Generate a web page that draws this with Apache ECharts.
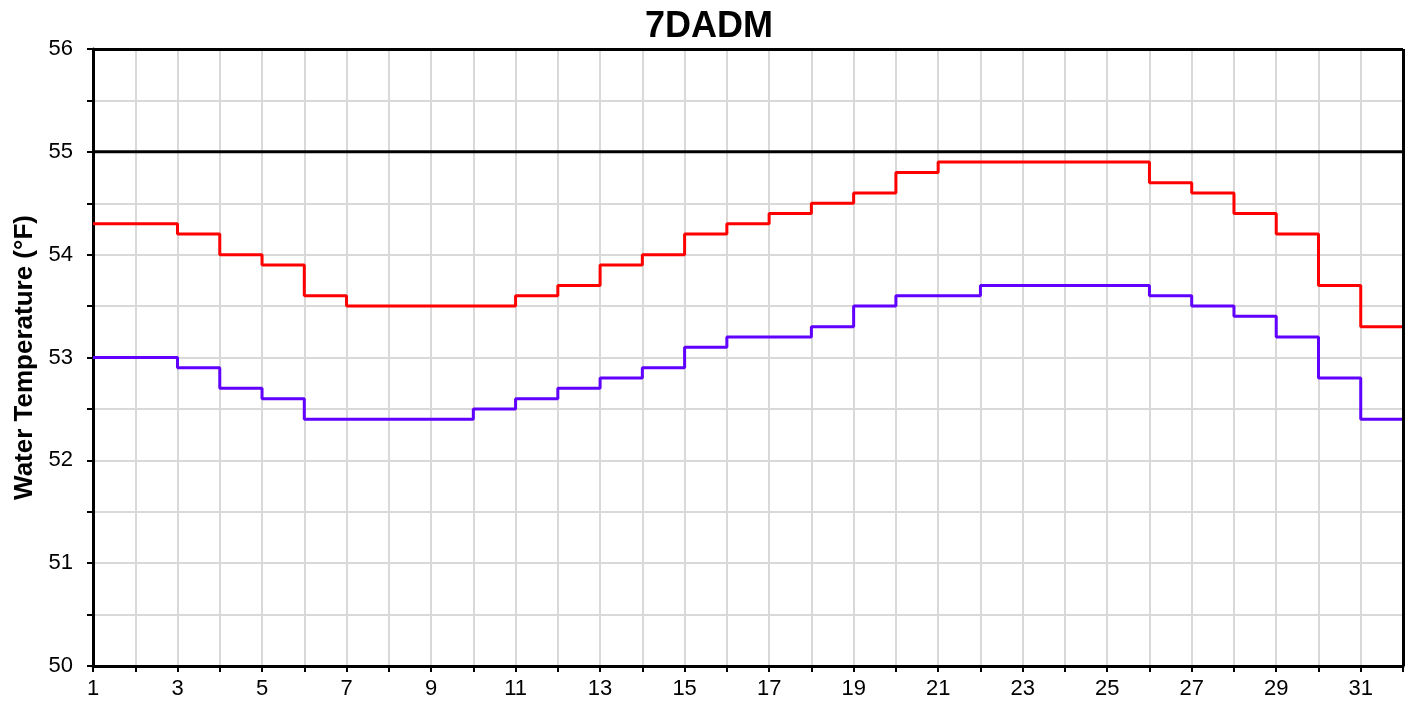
<!DOCTYPE html>
<html>
<head>
<meta charset="utf-8">
<script src="https://cdn.jsdelivr.net/npm/echarts@6/dist/echarts.min.js"></script>
<style>
  html, body { margin: 0; padding: 0; background: #fff; }
  #main { width: 1418px; height: 709px; }
</style>
</head>
<body>
<div id="main"></div>
<script>
// days 1..31, last step ends at 32
var days = [1, 2, 3, 4, 5, 6, 7, 8, 9, 10, 11, 12, 13, 14, 15, 16, 17, 18, 19, 20,
    21, 22, 23, 24, 25, 26, 27, 28, 29, 30, 31, 32];
var upper = [54.3, 54.3, 54.2, 54.0, 53.9, 53.6, 53.5, 53.5, 53.5, 53.5, 53.6, 53.7, 53.9, 54.0, 54.2, 54.3,
    54.4, 54.5, 54.6, 54.8, 54.9, 54.9, 54.9, 54.9, 54.9, 54.7, 54.6, 54.4, 54.2, 53.7, 53.3, 53.3];
var lower = [53.0, 53.0, 52.9, 52.7, 52.6, 52.4, 52.4, 52.4, 52.4, 52.5, 52.6, 52.7, 52.8, 52.9, 53.1, 53.2,
    53.2, 53.3, 53.5, 53.6, 53.6, 53.7, 53.7, 53.7, 53.7, 53.6, 53.5, 53.4, 53.2, 52.8, 52.4, 52.4];
var criterion = 55;

function pairs(ys) {
    return days.map(function (d, i) { return [d, ys[i]]; });
}

var myChart = echarts.init(document.getElementById('main'));

var font = 'Liberation Sans, Arial, sans-serif';

var option = {
    animation: false,
    title: {
        text: '7DADM',
        left: 'center',
        top: 4,
        textStyle: { fontFamily: font, fontSize: 36, fontWeight: 'bold', color: '#000' }
    },
    grid: { left: 93, right: 15, top: 49, bottom: 43, containLabel: false },
    xAxis: {
        type: 'value',
        min: 1,
        max: 32,
        interval: 1,
        axisLine: { show: true, onZero: false, lineStyle: { color: '#000', width: 3 } },
        axisTick: { show: true, length: 6, lineStyle: { color: '#000', width: 2 } },
        axisLabel: {
            fontFamily: font, fontSize: 22, color: '#000', margin: 12,
            formatter: function (v) { return (v % 2 === 1 && v < 32) ? String(v) : ''; }
        },
        splitLine: { show: true, lineStyle: { color: '#d9d9d9', width: 2 } }
    },
    yAxis: {
        type: 'value',
        min: 50,
        max: 56,
        interval: 0.5,
        name: 'Water Temperature (°F)',
        nameLocation: 'middle',
        nameGap: 55,
        nameTextStyle: { fontFamily: font, fontSize: 26, fontWeight: 'bold', color: '#000' },
        axisLine: { show: true, lineStyle: { color: '#000', width: 3 } },
        axisTick: { show: true, length: 6, lineStyle: { color: '#000', width: 2 } },
        axisLabel: {
            fontFamily: font, fontSize: 22, color: '#000', margin: 20,
            formatter: function (v) { return Number.isInteger(v) ? String(v) : ''; }
        },
        splitLine: { show: true, lineStyle: { color: '#d9d9d9', width: 2 } }
    },
    series: [
        {
            name: 'frame',
            type: 'line',
            data: [],
            markLine: {
                silent: true,
                symbol: 'none',
                label: { show: false },
                lineStyle: { color: '#000', width: 3, type: 'solid' },
                data: [{ yAxis: 56 }, { xAxis: 32 }]
            }
        },
        {
            name: 'criterion',
            type: 'line',
            data: [[1, criterion], [32, criterion]],
            symbol: 'none',
            lineStyle: { color: '#000', width: 3 }
        },
        {
            name: 'upper',
            type: 'line',
            step: 'end',
            data: pairs(upper),
            symbol: 'none',
            lineStyle: { color: '#ff0000', width: 3 }
        },
        {
            name: 'lower',
            type: 'line',
            step: 'end',
            data: pairs(lower),
            symbol: 'none',
            lineStyle: { color: '#6000ff', width: 3 }
        }
    ]
};

myChart.setOption(option);
</script>
</body>
</html>
